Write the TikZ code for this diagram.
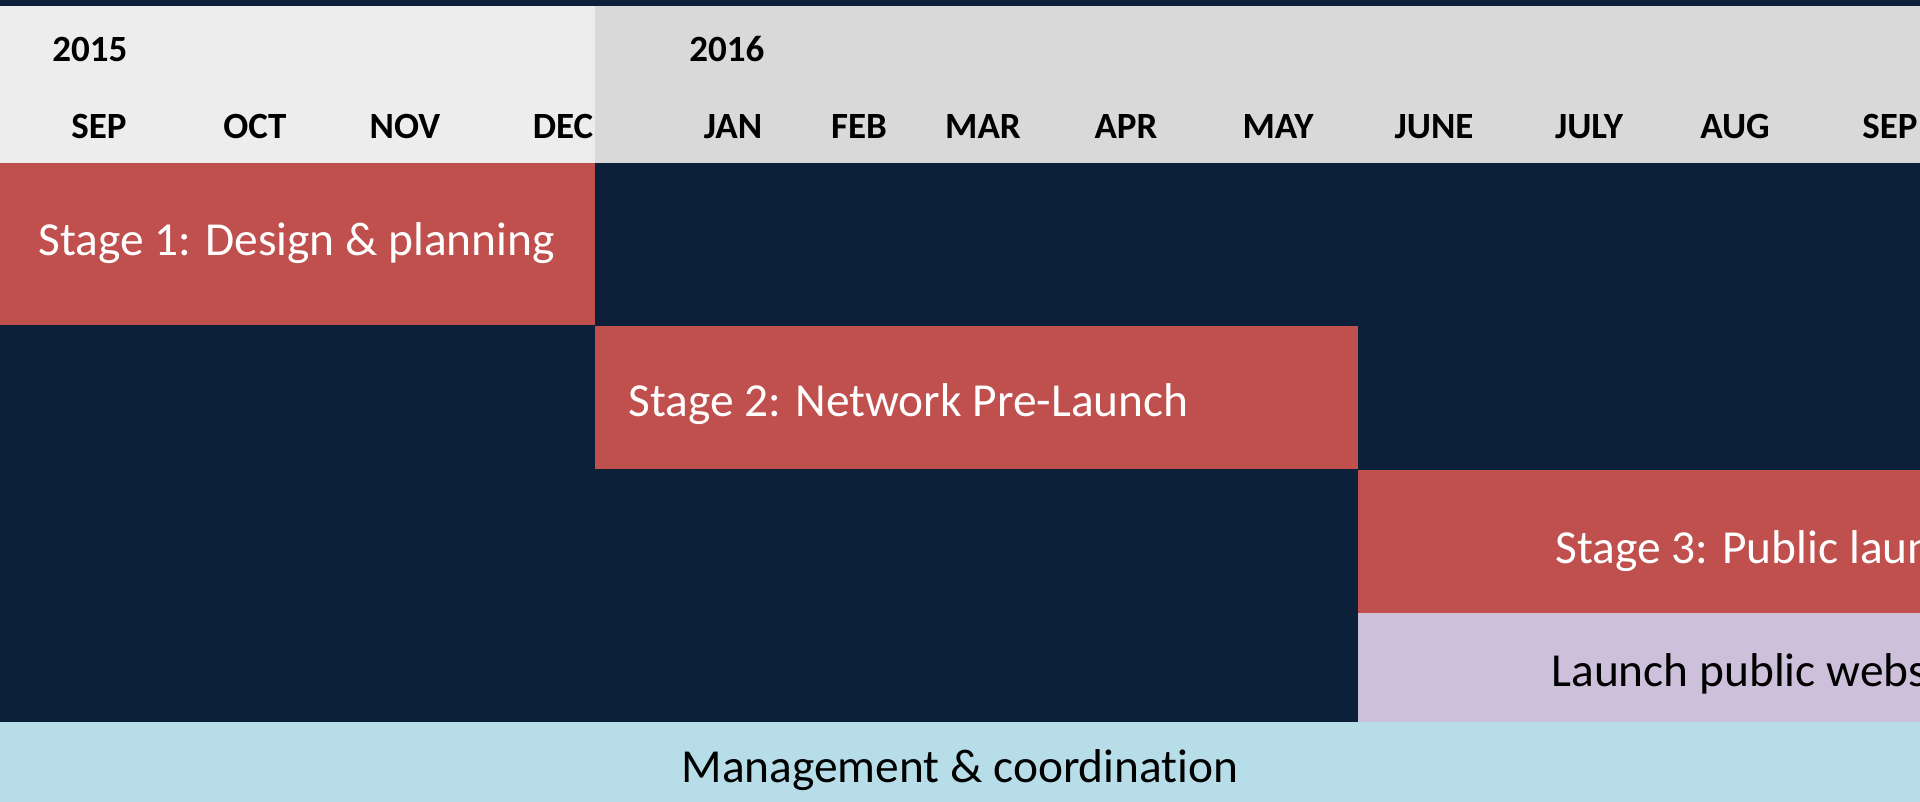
\documentclass[tikz,border=0pt]{standalone}
\usepackage{fontspec}
\setmainfont{Carlito}[Ligatures=CommonOff]
\definecolor{navy}{HTML}{0C2039}
\definecolor{stagered}{HTML}{C0504D}
\definecolor{lav}{HTML}{CCC0DA}
\definecolor{lblue}{HTML}{B7DEE8}
\definecolor{gleft}{HTML}{EDEDED}
\definecolor{gright}{HTML}{D9D9D9}
\tikzset{
  hdr/.style={font=\fontsize{18.5pt}{20pt}\selectfont\bfseries, text=black, inner sep=0pt},
  year/.style={hdr, anchor=base west},
  month/.style={hdr, anchor=base},
  barlabel/.style={font=\fontsize{23.7pt}{26pt}\selectfont, inner sep=0pt, anchor=base west},
}
\begin{document}
\begin{tikzpicture}[x=0.5pt,y=-0.5pt]
\useasboundingbox (0,0) rectangle (1920,802);
\clip (0,0) rectangle (1920,802);
% background
\fill[navy] (0,0) rectangle (1920,802);
% header
\fill[gleft] (0,6) rectangle (595,163);
\fill[gright] (595,6) rectangle (1920,163);
% bars
\fill[stagered] (0,163) rectangle (595,325);
\fill[stagered] (595,326) rectangle (1358,469);
\fill[stagered] (1358,470) rectangle (1920,613);
\fill[lav] (1358,613) rectangle (1920,722);
\fill[lblue] (0,722) rectangle (1920,802);
% years
\node[year] (y2015) at (52,62) {2015};
\node[year] (y2016) at (689,62) {2016};
% months
\node[month] (m1) at (99,139) {SEP};
\node[month] (m2) at (255,139) {OCT};
\node[month] (m3) at (405,139) {NOV};
\node[month] (m4) at (563,139) {DEC};
\node[month] (m5) at (733,139) {JAN};
\node[month] (m6) at (859,139) {FEB};
\node[month] (m7) at (983,139) {MAR};
\node[month] (m8) at (1126,139) {APR};
\node[month] (m9) at (1278,139) {MAY};
\node[month] (m10) at (1434,139) {JUNE};
\node[month] (m11) at (1589,139) {JULY};
\node[month] (m12) at (1735,139) {AUG};
\node[month] (m13) at (1890,139) {SEP};
% bar labels
\node[barlabel, text=white] (s1) at (38,256) {Stage 1: Design \& planning};
\node[barlabel, text=white] (s2) at (628,416) {Stage 2: Network Pre-Launch};
\node[barlabel, text=white] (s3) at (1555,563) {Stage 3: Public launch};
\node[barlabel, text=black] (web) at (1551,686) {Launch public website};
\node[barlabel, text=black, anchor=base] (mgmt) at (960,782) {Management \& coordination};
\end{tikzpicture}
\end{document}
